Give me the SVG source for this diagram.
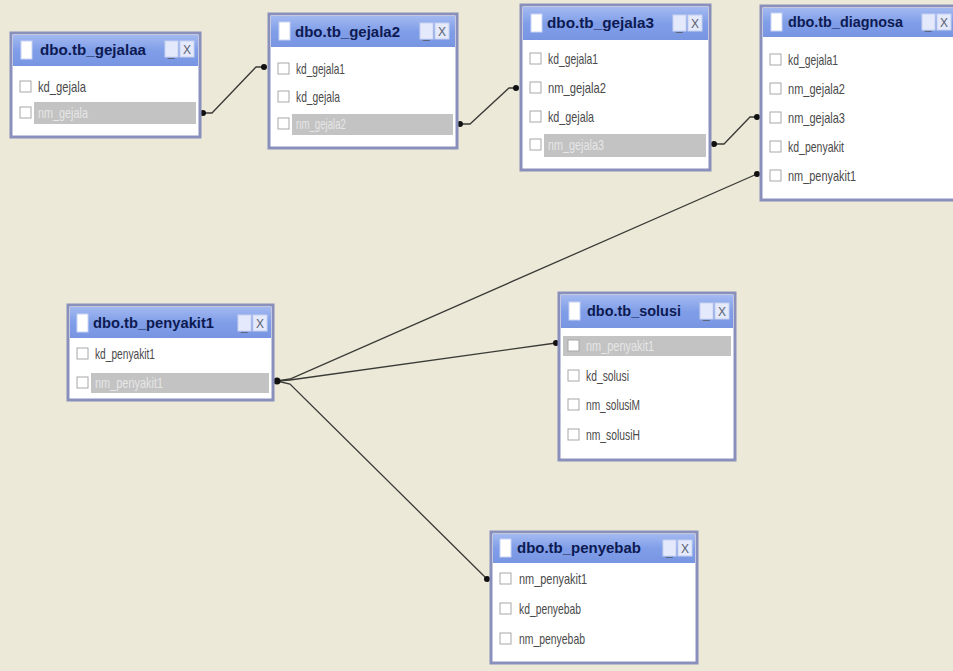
<svg xmlns="http://www.w3.org/2000/svg" width="953" height="671" viewBox="0 0 953 671">
  <defs>
    <linearGradient id="titleGrad" x1="0" y1="0" x2="0" y2="1">
      <stop offset="0" stop-color="#a3b9f0"/>
      <stop offset="0.5" stop-color="#809ee8"/>
      <stop offset="1" stop-color="#7895e2"/>
    </linearGradient>
    <style>
      .frame { fill: #ffffff; stroke: #8a90bc; stroke-width: 3; }
      .title { fill: url(#titleGrad); }
      .ttext { font-family: "Liberation Sans", Arial, sans-serif; font-size: 15.5px; font-weight: bold; fill: #0d1a52; }
      .tbox { fill: #ffffff; stroke: #c8d4f4; stroke-width: 1; }
      .btn { fill: #e4eafb; stroke: #c8d2f0; stroke-width: 1; }
      .btext { font-family: "Liberation Sans", Arial, sans-serif; font-size: 12px; fill: #5a6070; }
      .row { font-family: "Liberation Sans", Arial, sans-serif; font-size: 14.5px; fill: #4a4a4a; }
      .rowsel { font-family: "Liberation Sans", Arial, sans-serif; font-size: 14.5px; fill: #e6e6e6; }
      .sel { fill: #c3c3c3; }
      .cb { fill: #ffffff; stroke: #a8a8a8; stroke-width: 1; }
      .link { fill: none; stroke: #3a3a36; stroke-width: 1.3; }
      .dot { fill: #111111; }
    </style>
  </defs>

  <!-- canvas background -->
  <rect x="0" y="0" width="953" height="671" fill="#ece9d8"/>

  <!-- relationship lines -->
  <g id="connectors">
    <path class="link" d="M203,113 L212,113 L256,67 L264,67"/>
    <path class="link" d="M460,124 L470,124 L509,88 L516,88"/>
    <path class="link" d="M714,144 L724,144 L750,117 L757,117"/>
    <path class="link" d="M277,381 L290,379 L757,174"/>
    <path class="link" d="M277,381 L290,380 L556,343"/>
    <path class="link" d="M277,381 L290,384 L487,579"/>
    <circle class="dot" cx="203" cy="113" r="3"/>
    <circle class="dot" cx="264" cy="67" r="3"/>
    <circle class="dot" cx="460" cy="124" r="3"/>
    <circle class="dot" cx="516" cy="88" r="3"/>
    <circle class="dot" cx="714" cy="144" r="3"/>
    <circle class="dot" cx="757" cy="117" r="3"/>
    <circle class="dot" cx="757" cy="174" r="3"/>
    <circle class="dot" cx="277" cy="381" r="3.5"/>
    <circle class="dot" cx="556" cy="343" r="3"/>
    <circle class="dot" cx="487" cy="579" r="3"/>
  </g>

  <!-- dbo.tb_gejalaa -->
  <g id="tb_gejalaa">
    <rect class="frame" x="11" y="33" width="189" height="104"/>
    <rect class="title" x="13" y="35" width="185" height="31"/>
    <rect class="tbox" x="21" y="41" width="11" height="18"/>
    <text class="ttext" x="40" y="55" textLength="106" lengthAdjust="spacingAndGlyphs">dbo.tb_gejalaa</text>
    <rect class="btn" x="165" y="41" width="13" height="16"/>
    <rect class="btn" x="180" y="41" width="14" height="16"/>
    <text class="btext" x="168" y="56">_</text>
    <text class="btext" x="183" y="54">X</text>
    <rect class="cb" x="20" y="81" width="11" height="11"/>
    <text class="row" x="38" y="92" textLength="48" lengthAdjust="spacingAndGlyphs">kd_gejala</text>
    <rect class="sel" x="34" y="102" width="162" height="22"/>
    <rect class="cb" x="20" y="107" width="11" height="11"/>
    <text class="rowsel" x="38" y="118" textLength="50" lengthAdjust="spacingAndGlyphs">nm_gejala</text>
  </g>

  <!-- dbo.tb_gejala2 -->
  <g id="tb_gejala2">
    <rect class="frame" x="269" y="14" width="188" height="134"/>
    <rect class="title" x="271" y="16" width="184" height="31"/>
    <rect class="tbox" x="279" y="22" width="11" height="18"/>
    <text class="ttext" x="295" y="37" textLength="105" lengthAdjust="spacingAndGlyphs">dbo.tb_gejala2</text>
    <rect class="btn" x="420" y="23" width="13" height="16"/>
    <rect class="btn" x="435" y="23" width="14" height="16"/>
    <text class="btext" x="423" y="38">_</text>
    <text class="btext" x="438" y="36">X</text>
    <rect class="cb" x="278" y="63" width="11" height="11"/>
    <text class="row" x="296" y="74" textLength="49" lengthAdjust="spacingAndGlyphs">kd_gejala1</text>
    <rect class="cb" x="278" y="91" width="11" height="11"/>
    <text class="row" x="296" y="102" textLength="44" lengthAdjust="spacingAndGlyphs">kd_gejala</text>
    <rect class="sel" x="292" y="114" width="161" height="21"/>
    <rect class="cb" x="278" y="118" width="11" height="11"/>
    <text class="rowsel" x="296" y="129" textLength="50" lengthAdjust="spacingAndGlyphs">nm_gejala2</text>
  </g>

  <!-- dbo.tb_gejala3 -->
  <g id="tb_gejala3">
    <rect class="frame" x="521" y="5" width="189" height="165"/>
    <rect class="title" x="523" y="7" width="185" height="33"/>
    <rect class="tbox" x="531" y="14" width="11" height="18"/>
    <text class="ttext" x="547" y="28" textLength="107" lengthAdjust="spacingAndGlyphs">dbo.tb_gejala3</text>
    <rect class="btn" x="673" y="15" width="13" height="16"/>
    <rect class="btn" x="688" y="15" width="14" height="16"/>
    <text class="btext" x="676" y="30">_</text>
    <text class="btext" x="691" y="28">X</text>
    <rect class="cb" x="530" y="53" width="11" height="11"/>
    <text class="row" x="548" y="64" textLength="50" lengthAdjust="spacingAndGlyphs">kd_gejala1</text>
    <rect class="cb" x="530" y="82" width="11" height="11"/>
    <text class="row" x="548" y="93" textLength="58" lengthAdjust="spacingAndGlyphs">nm_gejala2</text>
    <rect class="cb" x="530" y="111" width="11" height="11"/>
    <text class="row" x="548" y="122" textLength="46" lengthAdjust="spacingAndGlyphs">kd_gejala</text>
    <rect class="sel" x="544" y="134" width="162" height="23"/>
    <rect class="cb" x="530" y="139" width="11" height="11"/>
    <text class="rowsel" x="548" y="150" textLength="56" lengthAdjust="spacingAndGlyphs">nm_gejala3</text>
  </g>

  <!-- dbo.tb_diagnosa -->
  <g id="tb_diagnosa">
    <rect class="frame" x="761" y="6" width="200" height="194"/>
    <rect class="title" x="763" y="8" width="196" height="29"/>
    <rect class="tbox" x="771" y="13" width="11" height="18"/>
    <text class="ttext" x="788" y="27" textLength="115" lengthAdjust="spacingAndGlyphs">dbo.tb_diagnosa</text>
    <rect class="btn" x="922" y="14" width="13" height="16"/>
    <rect class="btn" x="937" y="14" width="14" height="16"/>
    <text class="btext" x="925" y="29">_</text>
    <text class="btext" x="940" y="27">X</text>
    <rect class="cb" x="770" y="54" width="11" height="11"/>
    <text class="row" x="788" y="65" textLength="50" lengthAdjust="spacingAndGlyphs">kd_gejala1</text>
    <rect class="cb" x="770" y="83" width="11" height="11"/>
    <text class="row" x="788" y="94" textLength="57" lengthAdjust="spacingAndGlyphs">nm_gejala2</text>
    <rect class="cb" x="770" y="112" width="11" height="11"/>
    <text class="row" x="788" y="123" textLength="57" lengthAdjust="spacingAndGlyphs">nm_gejala3</text>
    <rect class="cb" x="770" y="141" width="11" height="11"/>
    <text class="row" x="788" y="152" textLength="56" lengthAdjust="spacingAndGlyphs">kd_penyakit</text>
    <rect class="cb" x="770" y="170" width="11" height="11"/>
    <text class="row" x="788" y="181" textLength="68" lengthAdjust="spacingAndGlyphs">nm_penyakit1</text>
  </g>

  <!-- dbo.tb_penyakit1 -->
  <g id="tb_penyakit1">
    <rect class="frame" x="68" y="305" width="205" height="95"/>
    <rect class="title" x="70" y="307" width="201" height="31"/>
    <rect class="tbox" x="77" y="314" width="11" height="18"/>
    <text class="ttext" x="93" y="328" textLength="121" lengthAdjust="spacingAndGlyphs">dbo.tb_penyakit1</text>
    <rect class="btn" x="238" y="315" width="13" height="16"/>
    <rect class="btn" x="253" y="315" width="14" height="16"/>
    <text class="btext" x="241" y="330">_</text>
    <text class="btext" x="256" y="328">X</text>
    <rect class="cb" x="77" y="348" width="11" height="11"/>
    <text class="row" x="95" y="359" textLength="60" lengthAdjust="spacingAndGlyphs">kd_penyakit1</text>
    <rect class="sel" x="91" y="373" width="178" height="20"/>
    <rect class="cb" x="77" y="377" width="11" height="11"/>
    <text class="rowsel" x="95" y="388" textLength="68" lengthAdjust="spacingAndGlyphs">nm_penyakit1</text>
  </g>

  <!-- dbo.tb_solusi -->
  <g id="tb_solusi">
    <rect class="frame" x="559" y="293" width="176" height="167"/>
    <rect class="title" x="561" y="295" width="172" height="33"/>
    <rect class="tbox" x="569" y="302" width="11" height="18"/>
    <text class="ttext" x="587" y="316" textLength="94" lengthAdjust="spacingAndGlyphs">dbo.tb_solusi</text>
    <rect class="btn" x="700" y="303" width="13" height="16"/>
    <rect class="btn" x="715" y="303" width="14" height="16"/>
    <text class="btext" x="703" y="318">_</text>
    <text class="btext" x="718" y="316">X</text>
    <rect class="sel" x="563" y="336" width="168" height="20"/>
    <rect class="cb" x="568" y="340" width="11" height="11"/>
    <text class="rowsel" x="586" y="351" textLength="68" lengthAdjust="spacingAndGlyphs">nm_penyakit1</text>
    <rect class="cb" x="568" y="370" width="11" height="11"/>
    <text class="row" x="586" y="381" textLength="43" lengthAdjust="spacingAndGlyphs">kd_solusi</text>
    <rect class="cb" x="568" y="399" width="11" height="11"/>
    <text class="row" x="586" y="410" textLength="54" lengthAdjust="spacingAndGlyphs">nm_solusiM</text>
    <rect class="cb" x="568" y="429" width="11" height="11"/>
    <text class="row" x="586" y="440" textLength="54" lengthAdjust="spacingAndGlyphs">nm_solusiH</text>
  </g>

  <!-- dbo.tb_penyebab -->
  <g id="tb_penyebab">
    <rect class="frame" x="491" y="532" width="206" height="131"/>
    <rect class="title" x="493" y="534" width="202" height="29"/>
    <rect class="tbox" x="500" y="539" width="11" height="18"/>
    <text class="ttext" x="517" y="553" textLength="124" lengthAdjust="spacingAndGlyphs">dbo.tb_penyebab</text>
    <rect class="btn" x="663" y="540" width="13" height="16"/>
    <rect class="btn" x="678" y="540" width="14" height="16"/>
    <text class="btext" x="666" y="555">_</text>
    <text class="btext" x="681" y="553">X</text>
    <rect class="cb" x="500" y="573" width="11" height="11"/>
    <text class="row" x="519" y="584" textLength="68" lengthAdjust="spacingAndGlyphs">nm_penyakit1</text>
    <rect class="cb" x="500" y="603" width="11" height="11"/>
    <text class="row" x="519" y="614" textLength="62" lengthAdjust="spacingAndGlyphs">kd_penyebab</text>
    <rect class="cb" x="500" y="633" width="11" height="11"/>
    <text class="row" x="519" y="644" textLength="66" lengthAdjust="spacingAndGlyphs">nm_penyebab</text>
  </g>
</svg>
